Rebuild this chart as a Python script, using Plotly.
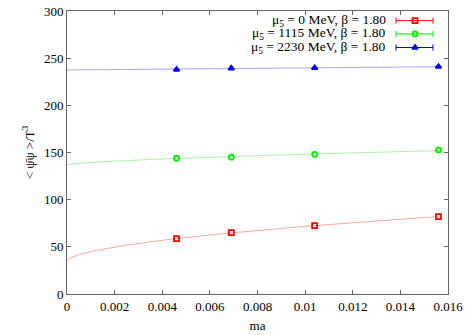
import numpy as np
import plotly.graph_objects as go

# ---- data ----
ma = [0.0046, 0.0069, 0.0104, 0.0156]
cond_mu0 = [58.6, 65.0, 72.4, 82.0]
cond_mu1115 = [143.9, 145.0, 148.1, 152.7]
cond_mu2230 = [237.9, 239.3, 239.7, 241.0]
series_names = ["μ<sub>5</sub> = 0 MeV, β = 1.80",
                "μ<sub>5</sub> = 1115 MeV, β = 1.80",
                "μ<sub>5</sub> = 2230 MeV, β = 1.80"]
# fit curve  a + b * ma^c  (a, c; b fitted to data)
fit_intercept = [34.5, 137.0, 237.5]
fit_power = [0.55, 0.65, 1.0]
x_tickvals = [0, 0.002, 0.004, 0.006, 0.008, 0.010, 0.012, 0.014, 0.016]
x_ticktext = ["0", "0.002", "0.004", "0.006", "0.008", "0.01", "0.012", "0.014", "0.016"]
y_tickvals = [0, 50, 100, 150, 200, 250, 300]

colors = ["#ff0000", "#00ee00", "#0000ff"]
fit_colors = ["rgba(255,0,0,0.35)", "rgba(0,230,0,0.35)", "rgba(0,0,255,0.35)"]
symbols = ["square-open", "circle-open", "triangle-up"]
FONT = "Liberation Serif, Times New Roman, serif"

fig = go.Figure()
xs = np.array(ma)
xgrid = np.linspace(0, xs.max(), 300)
for i, ys in enumerate([cond_mu0, cond_mu1115, cond_mu2230]):
    ys = np.array(ys)
    a, c = fit_intercept[i], fit_power[i]
    xc = xs ** c
    b = np.sum((ys - a) * xc) / np.sum(xc * xc)
    fig.add_trace(go.Scatter(x=xgrid, y=a + b * xgrid ** c, mode="lines",
                             line=dict(color=fit_colors[i], width=1),
                             showlegend=False, hoverinfo="skip"))
    fig.add_trace(go.Scatter(x=ma, y=ys, mode="markers",
                             marker=dict(symbol=symbols[i], size=5, color=colors[i],
                                         line=dict(color=colors[i], width=1.8)),
                             showlegend=False))

# ---- custom key (gnuplot style) ----
row_y = [0.966, 0.919, 0.871]
x0, x1, xm, xt = 0.8635, 0.9606, 0.9134, 0.8425
cap = 0.011
for i in range(3):
    fig.add_shape(type="line", xref="paper", yref="paper", x0=x0, x1=x1, y0=row_y[i], y1=row_y[i],
                  line=dict(color=colors[i], width=1))
    for xx in (x0, x1):
        fig.add_shape(type="line", xref="paper", yref="paper", x0=xx, x1=xx,
                      y0=row_y[i] - cap, y1=row_y[i] + cap, line=dict(color=colors[i], width=1))
    fig.add_annotation(x=xt, y=row_y[i], xref="paper", yref="paper", text=series_names[i],
                       showarrow=False, xanchor="right", yanchor="middle",
                       font=dict(family=FONT, size=13.5, color="black"))
    fig.add_trace(go.Scatter(x=[xm], y=[row_y[i]], xaxis="x2", yaxis="y2", mode="markers",
                             marker=dict(symbol=symbols[i], size=5, color=colors[i],
                                         line=dict(color=colors[i], width=1.8)),
                             showlegend=False, hoverinfo="skip"))

axis_common = dict(showline=True, linecolor="#666666", linewidth=1, mirror="ticks",
                   ticks="inside", ticklen=4, tickcolor="#666666", showgrid=False,
                   zeroline=False, tickfont=dict(family=FONT, size=13, color="black"))
fig.update_layout(
    width=466, height=335,
    margin=dict(l=67, r=18, t=11, b=41, autoexpand=False),
    paper_bgcolor="white", plot_bgcolor="white",
    font=dict(family=FONT, size=13, color="black"),
    xaxis=dict(range=[0, 0.016], tickvals=x_tickvals, ticktext=x_ticktext,
               title=dict(text="ma", font=dict(family=FONT, size=13, color="black"), standoff=8),
               **axis_common),
    yaxis=dict(range=[0, 300], tickvals=y_tickvals,
               title=dict(text="&lt; ψ̄ψ &gt;/T<sup>3</sup>", font=dict(family=FONT, size=13, color="black"),
                          standoff=6),
               **axis_common),
    xaxis2=dict(range=[0, 1], overlaying="x", visible=False, anchor="y2"),
    yaxis2=dict(range=[0, 1], overlaying="y", visible=False, anchor="x2"),
    showlegend=False,
)
fig.write_html("out.html", config={"displayModeBar": False},
               post_script="document.body.style.margin='0';")
